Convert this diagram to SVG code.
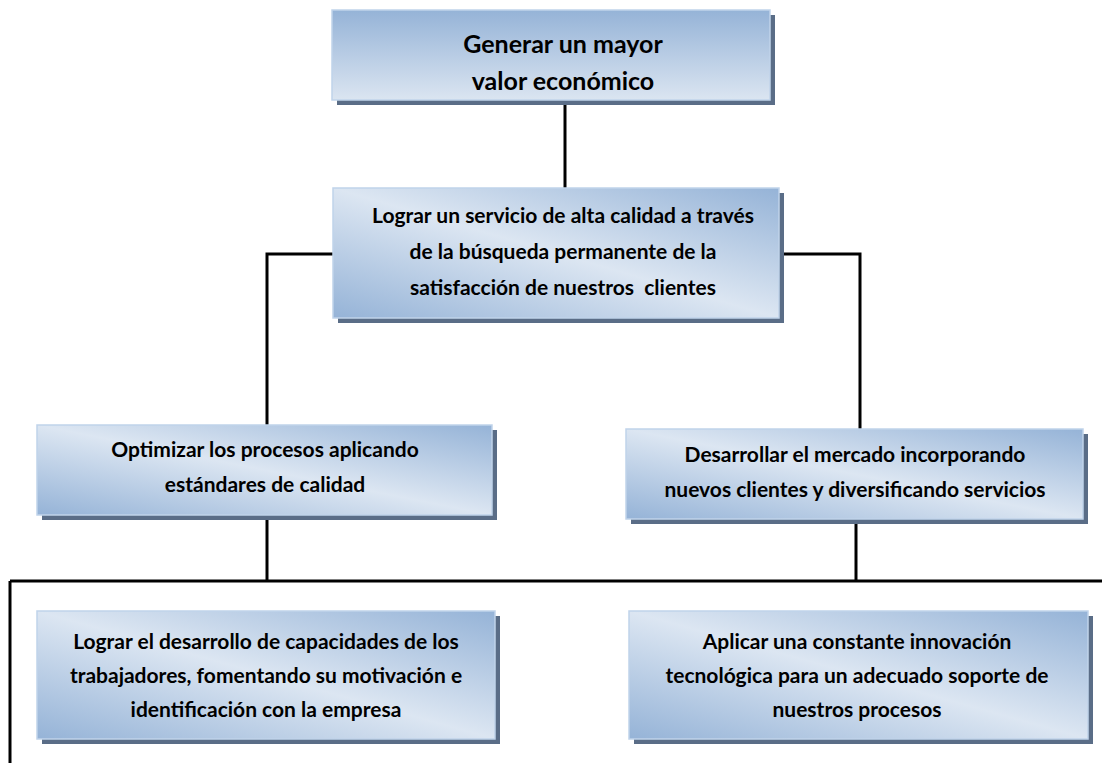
<svg xmlns="http://www.w3.org/2000/svg" width="1102" height="763" viewBox="0 0 1102 763">
<defs>
<linearGradient id="gV" x1="0" y1="0" x2="0" y2="1">
<stop offset="0" stop-color="#95b3d7"/>
<stop offset="1" stop-color="#dbe5f1"/>
</linearGradient>
<linearGradient id="gD" x1="0" y1="1" x2="1" y2="0">
<stop offset="0" stop-color="#95b3d7"/>
<stop offset="0.5" stop-color="#dce6f2"/>
<stop offset="1" stop-color="#95b3d7"/>
</linearGradient>
</defs>
<style>
.sh{fill:#5a6d87}
.bx{stroke:#c0d3ea;stroke-width:1.5}
.t{font-family:Lato,"Liberation Sans",sans-serif;font-weight:bold;font-size:21px;fill:#000;text-anchor:middle}
.tb{font-size:25px}
.ln{fill:none;stroke:#000;stroke-width:3}
</style>
<rect width="1102" height="763" fill="#fff"/>
<g id="connectors">
<path class="ln" d="M565 100V190"/>
<path class="ln" d="M334 254H267V427"/>
<path class="ln" d="M778 254H860V430"/>
<path class="ln" d="M267 518V581"/>
<path class="ln" d="M856 523V581"/>
<path class="ln" d="M10 581H1102"/>
<path class="ln" d="M10 581V763"/>
</g>
<g id="n1">
<rect class="sh" x="337" y="15" width="438" height="90"/>
<rect class="bx" x="332" y="10" width="438" height="90" fill="url(#gV)"/>
<text class="t tb" x="563" y="53">Generar un mayor</text>
<text class="t tb" x="563" y="90">valor económico</text>
</g>
<g id="n2">
<rect class="sh" x="338" y="193" width="446" height="130"/>
<rect class="bx" x="333" y="188" width="446" height="130" fill="url(#gD)"/>
<text class="t" x="563" y="223">Lograr un servicio de alta calidad a través</text>
<text class="t" x="563" y="259">de la búsqueda permanente de la</text>
<text class="t" x="563" y="295" xml:space="preserve">satisfacción de nuestros  clientes</text>
</g>
<g id="n3">
<rect class="sh" x="42" y="430" width="455" height="90"/>
<rect class="bx" x="37" y="425" width="455" height="90" fill="url(#gD)"/>
<text class="t" x="265" y="457">Optimizar los procesos aplicando</text>
<text class="t" x="265" y="492">estándares de calidad</text>
</g>
<g id="n4">
<rect class="sh" x="631" y="434" width="457" height="90"/>
<rect class="bx" x="626" y="429" width="457" height="90" fill="url(#gD)"/>
<text class="t" x="855" y="462">Desarrollar el mercado incorporando</text>
<text class="t" x="855" y="497">nuevos clientes y diversificando servicios</text>
</g>
<g id="n5">
<rect class="sh" x="42" y="616" width="458" height="128"/>
<rect class="bx" x="37" y="611" width="458" height="128" fill="url(#gD)"/>
<text class="t" x="266" y="649">Lograr el desarrollo de capacidades de los</text>
<text class="t" x="266" y="683">trabajadores, fomentando su motivación e</text>
<text class="t" x="266" y="717">identificación con la empresa</text>
</g>
<g id="n6">
<rect class="sh" x="634" y="616" width="459" height="128"/>
<rect class="bx" x="629" y="611" width="459" height="128" fill="url(#gD)"/>
<text class="t" x="857" y="649">Aplicar una constante innovación</text>
<text class="t" x="857" y="683">tecnológica para un adecuado soporte de</text>
<text class="t" x="857" y="717">nuestros procesos</text>
</g>
</svg>
